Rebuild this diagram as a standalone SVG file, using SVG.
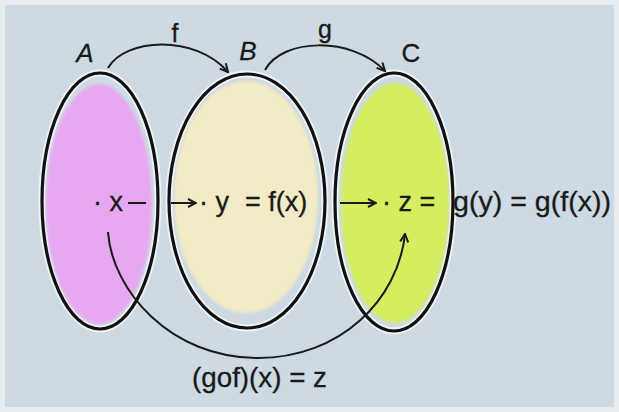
<svg xmlns="http://www.w3.org/2000/svg" width="619" height="412" viewBox="0 0 619 412">
  <defs>
    <style>
      .lbl { font-family: "Liberation Sans", Arial, sans-serif; fill: #1a1a1a; stroke: #1a1a1a; stroke-width: 0.3; }
      .set { font-size: 26px; }
      .fn { font-size: 25px; }
      .row { font-size: 27px; }
      .halo { fill: none; stroke: #eef3f6; stroke-width: 7; }
      .rim { fill: none; stroke: #111; stroke-width: 3.2; }
      .conn { fill: none; stroke: #1a1a1a; stroke-width: 2; }
    </style>
    <filter id="soft" x="-20%" y="-20%" width="140%" height="140%">
      <feGaussianBlur stdDeviation="1.5"/>
    </filter>
    <marker id="head" viewBox="0 0 10 10" refX="9" refY="5" markerWidth="5" markerHeight="5" orient="auto" markerUnits="strokeWidth">
      <path d="M1,1 L9,5 L1,9" fill="none" stroke="#1a1a1a" stroke-width="2"/>
    </marker>
  </defs>

  <rect x="0" y="0" width="619" height="412" fill="#e8ecee"/>
  <rect x="5" y="5" width="609" height="402" fill="#cddae3"/>

  <g id="setA">
    <ellipse cx="100" cy="201" rx="58" ry="128" class="halo"/>
    <ellipse cx="99" cy="204" rx="53" ry="120" fill="#e6a8f0" filter="url(#soft)"/>
    <ellipse cx="100" cy="201" rx="58" ry="128" class="rim"/>
    <text x="85" y="62" text-anchor="middle" class="lbl set" font-style="italic">A</text>
  </g>

  <g id="setB">
    <ellipse cx="247" cy="201" rx="78" ry="127" class="halo"/>
    <ellipse cx="246" cy="197" rx="72" ry="116" fill="#f3eac6" filter="url(#soft)"/>
    <ellipse cx="247" cy="201" rx="78" ry="127" class="rim"/>
    <text x="248" y="60" text-anchor="middle" class="lbl set" font-style="italic">B</text>
  </g>

  <g id="setC">
    <ellipse cx="394" cy="202" rx="59" ry="129" class="halo"/>
    <ellipse cx="395" cy="203" rx="54" ry="120" fill="#d5ee5e" filter="url(#soft)"/>
    <ellipse cx="394" cy="202" rx="59" ry="129" class="rim"/>
    <text x="411" y="62" text-anchor="middle" class="lbl set">C</text>
  </g>

  <g id="connectors">
    <path class="conn" d="M108,68 C125,38 195,34 228,72" marker-end="url(#head)"/>
    <path class="conn" d="M265,70 C282,38 352,36 385,71" marker-end="url(#head)"/>
    <path class="conn" d="M128,203 H146 M171,203 H196" marker-end="url(#head)"/>
    <path class="conn" d="M340,203 H376" marker-end="url(#head)"/>
    <path class="conn" d="M108,232 C112,290 170,358 258,358 C340,358 398,300 405,234" marker-end="url(#head)"/>
  </g>

  <g id="labels">
    <text x="175" y="42" text-anchor="middle" class="lbl fn">f</text>
    <text x="325" y="38" text-anchor="middle" class="lbl fn">g</text>
    <text x="93" y="211" class="lbl row">· x</text>
    <text x="199" y="211" class="lbl row">· y</text>
    <text x="245" y="211" class="lbl row">= f(x)</text>
    <text x="382" y="211" class="lbl row">· z =</text>
    <text x="453" y="211" class="lbl row" textLength="158" lengthAdjust="spacingAndGlyphs">g(y) = g(f(x))</text>
    <text x="192" y="387" class="lbl row" textLength="135" lengthAdjust="spacingAndGlyphs">(gof)(x) = z</text>
  </g>
</svg>
